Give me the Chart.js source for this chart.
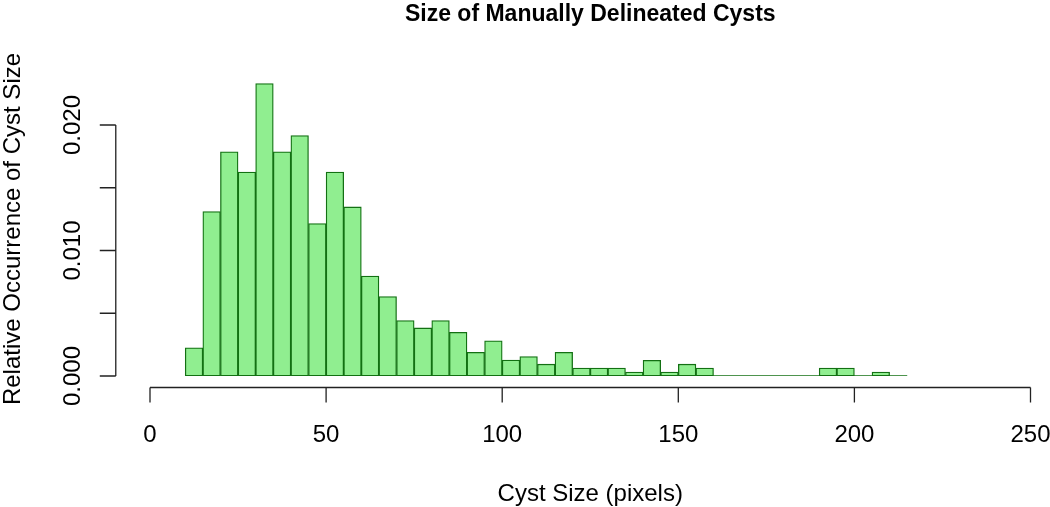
<!DOCTYPE html>
<html>
<head>
<meta charset="utf-8">
<script src="https://cdn.jsdelivr.net/npm/chart.js@4/dist/chart.umd.min.js"></script>
<style>
  html, body { margin: 0; padding: 0; background: #ffffff; }
  canvas { display: block; }
</style>
</head>
<body>
<canvas id="c" width="1050" height="507"></canvas>
<script>
// ---- data ----
const binStarts = [10,15,20,25,30,35,40,45,50,55,60,65,70,75,80,85,90,95,100,105,110,115,120,125,130,135,140,145,150,155,160,165,170,175,180,185,190,195,200,205,210];
const binWidth = 5;
const densities = [0.00225,0.01310,0.01787,0.01625,0.02330,0.01787,0.01915,0.01214,0.01625,0.01347,0.00797,0.00633,0.00441,0.00383,0.00441,0.00348,0.00188,0.00280,0.00127,0.00155,0.00094,0.00188,0.00063,0.00063,0.00063,0.00031,0.00125,0.00031,0.00094,0.00063,0,0,0,0,0,0,0.00063,0.00063,0,0.00031,0];
const xTicks = [0, 50, 100, 150, 200, 250];
const yTicks = [0, 0.005, 0.010, 0.015, 0.020];
const yTickLabels = [[0, "0.000"], [0.010, "0.010"], [0.020, "0.020"]];
const titleText = "Size of Manually Delineated Cysts";
const xTitle = "Cyst Size (pixels)";
const yTitle = "Relative Occurrence of Cyst Size";

const barData = binStarts.map((s, i) => ({ x: s + binWidth / 2, y: densities[i] }));
const baseLine = [
  { x: binStarts[0], y: 0 },
  { x: binStarts[binStarts.length - 1] + binWidth, y: 0 }
];

const FONT = "'Liberation Sans', Arial, sans-serif";
const AXIS_COLOR = "#222222";
const EDGE = "#137013";

const rAxes = {
  id: 'rAxes',
  afterDraw(chart) {
    const ctx = chart.ctx;
    const xs = chart.scales.x, ys = chart.scales.y;
    const axisY = ys.getPixelForValue(0) + 11.5;
    const axisX = xs.getPixelForValue(-10) + 1;
    ctx.save();
    ctx.strokeStyle = AXIS_COLOR;
    ctx.lineWidth = 1.3;
    // x axis
    ctx.beginPath();
    ctx.moveTo(xs.getPixelForValue(xTicks[0]), axisY);
    ctx.lineTo(xs.getPixelForValue(xTicks[xTicks.length - 1]), axisY);
    xTicks.forEach(v => {
      const px = xs.getPixelForValue(v);
      ctx.moveTo(px, axisY);
      ctx.lineTo(px, axisY + 15);
    });
    ctx.stroke();
    // y axis
    ctx.beginPath();
    ctx.moveTo(axisX, ys.getPixelForValue(yTicks[0]));
    ctx.lineTo(axisX, ys.getPixelForValue(yTicks[yTicks.length - 1]));
    yTicks.forEach(v => {
      const py = ys.getPixelForValue(v);
      ctx.moveTo(axisX, py);
      ctx.lineTo(axisX - 16, py);
    });
    ctx.stroke();

    ctx.fillStyle = "#000000";
    ctx.font = "24px " + FONT;
    ctx.textAlign = "center";
    ctx.textBaseline = "alphabetic";
    xTicks.forEach(v => {
      ctx.fillText(String(v), xs.getPixelForValue(v), 442);
    });
    ctx.fillText(xTitle, (xs.getPixelForValue(0) + xs.getPixelForValue(250)) / 2, 501);

    yTickLabels.forEach(([v, t]) => {
      ctx.save();
      ctx.translate(80, ys.getPixelForValue(v));
      ctx.rotate(-Math.PI / 2);
      ctx.fillText(t, 0, 0);
      ctx.restore();
    });
    ctx.save();
    ctx.translate(20, 229);
    ctx.rotate(-Math.PI / 2);
    ctx.fillText(yTitle, 0, 0);
    ctx.restore();

    ctx.font = "bold 23px " + FONT;
    ctx.fillText(titleText, (xs.getPixelForValue(0) + xs.getPixelForValue(250)) / 2, 21);
    ctx.restore();
  }
};

new Chart(document.getElementById('c'), {
  type: 'bar',
  data: {
    datasets: [
      {
        type: 'bar',
        data: barData,
        backgroundColor: '#90EE90',
        borderColor: EDGE,
        borderWidth: 1.3,
        borderSkipped: false,
        barPercentage: 1.0,
        categoryPercentage: 1.0,
        order: 2
      },
      {
        type: 'line',
        data: baseLine,
        borderColor: EDGE,
        borderWidth: 1.5,
        pointRadius: 0,
        fill: false,
        order: 1
      }
    ]
  },
  options: {
    responsive: false,
    animation: false,
    devicePixelRatio: 1,
    layout: { padding: { left: 150, right: 19.5, top: 68.5, bottom: 131 } },
    plugins: { legend: { display: false }, title: { display: false }, tooltip: { enabled: false } },
    scales: {
      x: { type: 'linear', min: 0, max: 250, display: false, offset: false },
      y: { type: 'linear', min: 0, max: 0.0245, display: false }
    }
  },
  plugins: [rAxes]
});
</script>
</body>
</html>
